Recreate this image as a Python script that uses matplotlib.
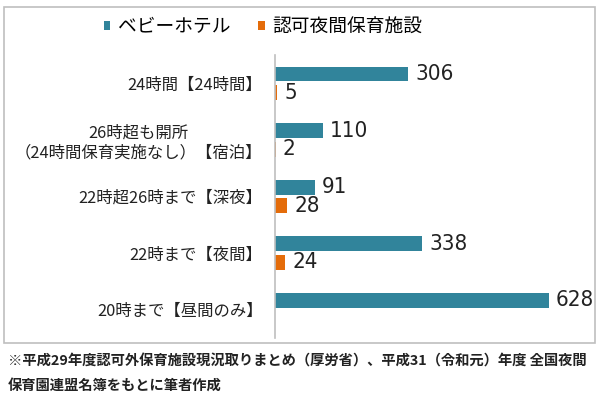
import numpy as np
import matplotlib
matplotlib.use("Agg")
import matplotlib.pyplot as plt
from matplotlib.patches import Rectangle

plt.rcParams["font.family"] = ["Noto Sans CJK JP", "DejaVu Sans"]

categories = [
    "24時間【24時間】",
    "26時超も開所\n（24時間保育実施なし）【宿泊】",
    "22時超26時まで【深夜】",
    "22時まで【夜間】",
    "20時まで【昼間のみ】",
]
baby_hotel = [306, 110, 91, 338, 628]
ninka_yakan = [5, 2, 28, 24, np.nan]
series_names = ["ベビーホテル", "認可夜間保育施設"]
source_note = ("※平成29年度認可外保育施設現況取りまとめ（厚労省）、平成31（令和元）年度 全国夜間\n"
               "保育園連盟名簿をもとに筆者作成")

teal = "#31849B"
orange = "#E46C0A"

fig = plt.figure(figsize=(6, 3.99), dpi=100)
fig.patches.append(Rectangle((4 / 600, 1 - 343 / 399), 591 / 600, 336 / 399,
                             transform=fig.transFigure, fill=False,
                             edgecolor="#BFBFBF", linewidth=1.2))

ax = fig.add_axes([275 / 600, 61 / 399, 305 / 600, 283 / 399])
y = np.arange(len(categories))
off = 0.165
h = 0.26
ax.barh(y - off, baby_hotel, height=h, color=teal, label=series_names[0])
ax.barh(y + off, ninka_yakan, height=h, color=orange, label=series_names[1])

def put_value(v, yy):
    ax.annotate(f"{int(v)}", (v, yy), xytext=(5, 0), textcoords="offset points",
                va="center", ha="left", fontsize=16, family="DejaVu Sans",
                fontstretch="condensed", color="#222222")

for yi, v in zip(y, baby_hotel):
    put_value(v, yi - off)
for yi, v in zip(y, ninka_yakan):
    if not np.isnan(v):
        put_value(v, yi + off)

ax.set_xlim(0, 700)
ax.set_ylim(len(categories) - 0.5, -0.5)
ax.set_xticks([])
ax.set_yticks(y)
ax.set_yticklabels(categories, fontsize=11.8, multialignment="center", color="#222222")
ax.tick_params(axis="y", length=0, pad=9)
for s in ["top", "right", "bottom"]:
    ax.spines[s].set_visible(False)
ax.spines["left"].set_color("#BFBFBF")
ax.spines["left"].set_linewidth(1.2)

fig.legend(loc="center", bbox_to_anchor=(263 / 600, 1 - 27 / 399), ncol=2, frameon=False,
           fontsize=13.5, handlelength=0.33, handleheight=0.33, handletextpad=0.4,
           columnspacing=1.5, borderpad=0)

fig.text(8 / 600, 1 - 374 / 399, source_note, fontsize=10.3, fontweight="bold",
         va="center", ha="left", linespacing=1.9, color="#222222")

fig.savefig("out.png", dpi=100)
